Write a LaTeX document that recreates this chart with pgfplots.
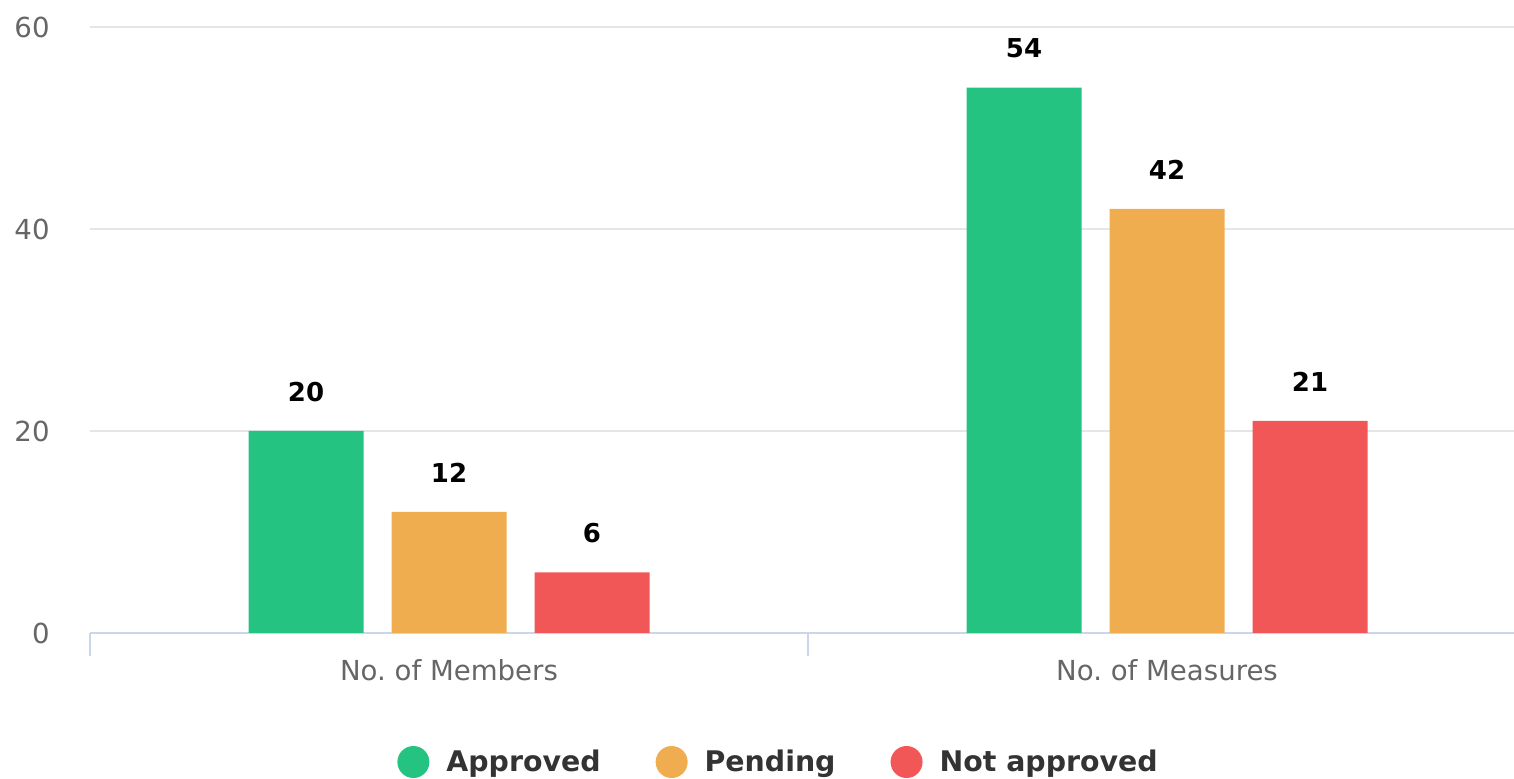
\documentclass[border=0pt]{standalone}
\usepackage{pgfplots}
\pgfplotsset{compat=1.18}
\usepackage{fontspec}
\setmainfont{DejaVu Sans}
\definecolor{cgreen}{HTML}{24C382}
\definecolor{corange}{HTML}{EFAD4F}
\definecolor{cred}{HTML}{F25757}
\definecolor{gridc}{HTML}{E6E6E6}
\definecolor{axisc}{HTML}{CCD6EB}
\definecolor{labc}{HTML}{666666}
\definecolor{legc}{HTML}{333333}
\pgfplotsset{/pgfplots/ybar legend/.style={/pgfplots/legend image code/.code={\fill[#1,draw=none] (8pt,0pt) circle (8pt);}}}
\begin{document}
\frenchspacing
\begin{tikzpicture}
\begin{axis}[
  scale only axis,
  width=718pt, height=303pt,
  xmin=-0.5, xmax=1.5,
  ymin=0, ymax=60,
  ytick={0,20,40,60},
  xtick={0,1},
  xticklabels={No. of Members, No. of Measures},
  extra x ticks={-0.5,0.5,1.5},
  extra x tick labels={},
  extra x tick style={major tick length=11.5pt, tick style={axisc, line width=1pt}, tick align=outside, grid=none},
  major tick length=0pt,
  /pgf/number format/assume math mode=true,
  ymajorgrids,
  grid style={gridc, line width=1pt},
  axis lines*=left,
  x axis line style={-, axisc, line width=1pt},
  y axis line style={draw=none},
  tick label style={labc, font=\fontsize{13.8}{16}\selectfont, inner sep=0pt},
  yticklabel style={anchor=east, xshift=-20pt},
  xticklabel style={anchor=north, yshift=-13pt},
  ybar=14pt,
  bar width=57.5pt,
  nodes near coords,
  every node near coord/.append style={font=\fontsize{13}{15}\selectfont\bfseries, black, inner sep=0pt, yshift=14.5pt},
  legend columns=3,
  legend style={at={(0.4788,-0.2129)}, anchor=center, draw=none, fill=none,
    font=\fontsize{14.2}{17}\selectfont\bfseries, text=legc,
    nodes={inner sep=0pt},
    /tikz/every odd column/.append style={column sep=8.5pt},
    /tikz/every even column/.append style={column sep=27.5pt}},
]
\addplot[fill=cgreen, draw=none] coordinates {(0,20) (1,54)};
\addplot[fill=corange, draw=none] coordinates {(0,12) (1,42)};
\addplot[fill=cred, draw=none] coordinates {(0,6) (1,21)};
\legend{Approved, Pending, Not approved}
\end{axis}
\pgfresetboundingbox
\path (-45pt,-73pt) rectangle (712pt,316.5pt);
\end{tikzpicture}
\end{document}
